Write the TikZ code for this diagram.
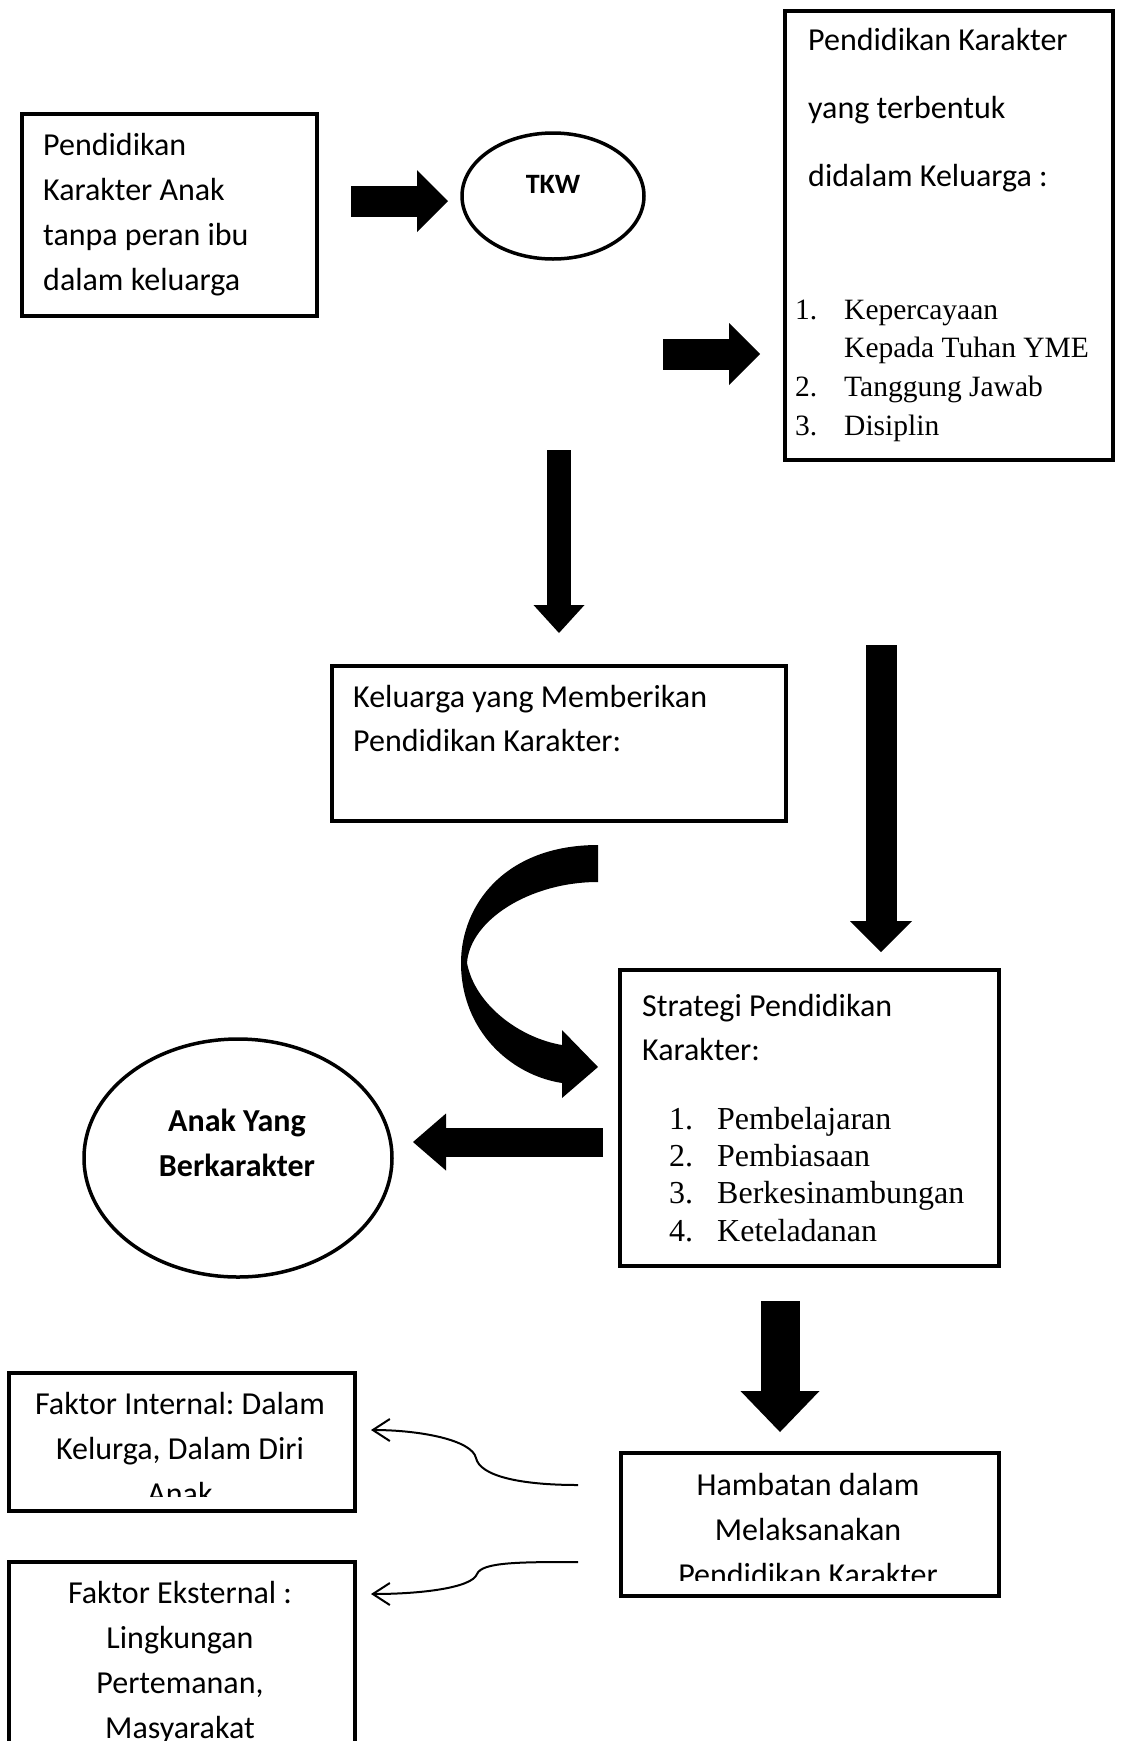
\documentclass[tikz,border=0pt]{standalone}
\usepackage{fontspec}
\setmainfont{Carlito}
\newfontfamily\timesfont{Liberation Serif}
\usetikzlibrary{shapes.geometric,arrows.meta}
\frenchspacing

\begin{document}
\begin{tikzpicture}[x=1pt, y=-1pt,
	box/.style={draw, line width=3.5pt, anchor=north west, inner sep=0pt},
	oval/.style={ellipse, draw, line width=3.5pt, inner sep=0pt},
	txt/.style={font=\fontsize{32}{45}\selectfont, inner sep=0pt},
	bold/.style={font=\bfseries\fontsize{32}{45}\selectfont, inner sep=0pt, anchor=base},
	num/.style={inner sep=0pt, anchor=base west},
	blockarr/.style n args={3}{line width=#1, -{Triangle[length=#3, width=#2, line width=0pt]}},
	hook/.style={line width=2pt, -{Straight Barb[length=17pt, width=22pt]}}]

\useasboundingbox (0,0) rectangle (1120,1741);

% boxes and ovals
\node[box, minimum width=295pt, minimum height=202pt] (anak) at (20,112) {};
\node[oval, minimum width=182pt, minimum height=126pt] (tkw) at (553,196) {};
\node[box, minimum width=328pt, minimum height=449pt] (hasil) at (783,9) {};
\node[box, minimum width=454pt, minimum height=155pt] (kel) at (330,664) {};
\node[box, minimum width=379pt, minimum height=296pt] (strat) at (618,968) {};
\node[oval, minimum width=308pt, minimum height=238pt] (ber) at (238,1158) {};
\node[box, minimum width=378pt, minimum height=143pt] (hamb) at (619,1451) {};
\node[box, minimum width=346pt, minimum height=138pt] (fint) at (7,1371) {};
\node[box, minimum width=346pt, minimum height=220pt] (fext) at (7,1560) {};

% texts
\foreach [count=\i] \t in {Pendidikan, Karakter Anak, tanpa peran ibu, dalam keluarga}{
	\node[txt, anchor=base west] (a\i) at (43, 110+45*\i) {\t};
}
\node[bold, font=\bfseries\fontsize{28}{34}\selectfont] (tkwt) at (553,193) {TKW};

\foreach [count=\i] \t in {Pendidikan Karakter, yang terbentuk, didalam Keluarga :}{
	\node[txt, anchor=base west] (h\i) at (808, -18+68*\i) {\t};
}
\begin{scope}[every node/.style={num, font=\timesfont\fontsize{29.5}{39}\selectfont}]
\foreach \n\y in {1./319, 2./396, 3./435}{
	\node (hn\y) at (795,\y) {\n};
}
\foreach [count=\i] \t\y in {Kepercayaan/319, Kepada Tuhan YME/357, Tanggung Jawab/396, Disiplin/435}{
	\node (hi\i) at (844,\y) {\t};
}
\end{scope}

\node[txt, anchor=base west] (k1) at (353,707) {Keluarga yang Memberikan};
\node[txt, anchor=base west] (k2) at (353,751) {Pendidikan Karakter:};

\node[txt, anchor=base west] (s1) at (642,1016) {Strategi Pendidikan};
\node[txt, anchor=base west] (s2) at (642,1060) {Karakter:};
\begin{scope}[every node/.style={num, font=\timesfont\fontsize{32}{37}\selectfont}]
\foreach [count=\i] \t\y in {Pembelajaran/1129, Pembiasaan/1166, Berkesinambungan/1203, Keteladanan/1241}{
	\node (sn\i) at (669,\y) {\i.};
	\node (si\i) at (717,\y) {\t};
}
\end{scope}

\node[bold] (b1) at (237,1131) {Anak Yang};
\node[bold] (b2) at (237,1176) {Berkarakter};

\begin{scope}
\clip (619,1451) rectangle (997,1580);
\foreach [count=\i] \t in {Hambatan dalam, Melaksanakan, Pendidikan Karakter}{
	\node[txt, anchor=base] (m\i) at (808, 1450+45*\i) {\t};
}
\end{scope}

\begin{scope}
\clip (7,1371) rectangle (353,1496);
\foreach [count=\i] \t in {{Faktor Internal: Dalam}, {Kelurga, Dalam Diri}, Anak}{
	\node[txt, anchor=base] (fi\i) at (180, 1369+45*\i) {\t};
}
\end{scope}

\foreach [count=\i] \t in {Faktor Eksternal :, Lingkungan, {Pertemanan,}, Masyarakat}{
	\node[txt, anchor=base] (fe\i) at (180, 1558+45*\i) {\t};
}

% block arrows
\coordinate (a1s) at (351,201);  \coordinate (a1e) at (448,201);
\coordinate (a2s) at (663,354);  \coordinate (a2e) at (760,354);
\coordinate (d1s) at (559,450);  \coordinate (d1e) at (559,633);
\coordinate (d2s) at (881,645);  \coordinate (d2e) at (881,952);
\coordinate (ls)  at (603,1142); \coordinate (le)  at (413,1142);
\coordinate (d3s) at (780,1301); \coordinate (d3e) at (780,1432);

\draw[blockarr={31pt}{62pt}{31pt}] (a1s) -- (a1e);
\draw[blockarr={31pt}{62pt}{31pt}] (a2s) -- (a2e);
\draw[blockarr={24pt}{51pt}{28pt}] (d1s) -- (d1e);
\draw[blockarr={31pt}{62pt}{31pt}] (d2s) -- (d2e);
\draw[blockarr={29pt}{57pt}{33pt}] (ls) -- (le);
\draw[blockarr={39pt}{79pt}{41pt}] (d3s) -- (d3e);

% curved arrow
\fill (598,845) .. controls (505,845) and (461,905) .. (461,963)
	.. controls (461,1030) and (510,1075) .. (562,1083) -- (562,1098) -- (598,1067)
	-- (562,1030) -- (562,1045) .. controls (520,1038) and (475,1005) .. (467,963)
	.. controls (470,920) and (530,882) .. (598,882) -- cycle;

% thin arrows
\coordinate (t1) at (578,1485); \coordinate (f1) at (371,1430);
\coordinate (t2) at (578,1562); \coordinate (f2) at (371,1594);
\draw[hook] (t1) .. controls (520,1485) and (480,1476) .. (476,1458)
	.. controls (472,1440) and (420,1430) .. (f1);
\draw[hook] (t2) .. controls (520,1562) and (482,1562) .. (477,1574)
	.. controls (472,1588) and (420,1594) .. (f2);

\end{tikzpicture}
\end{document}
